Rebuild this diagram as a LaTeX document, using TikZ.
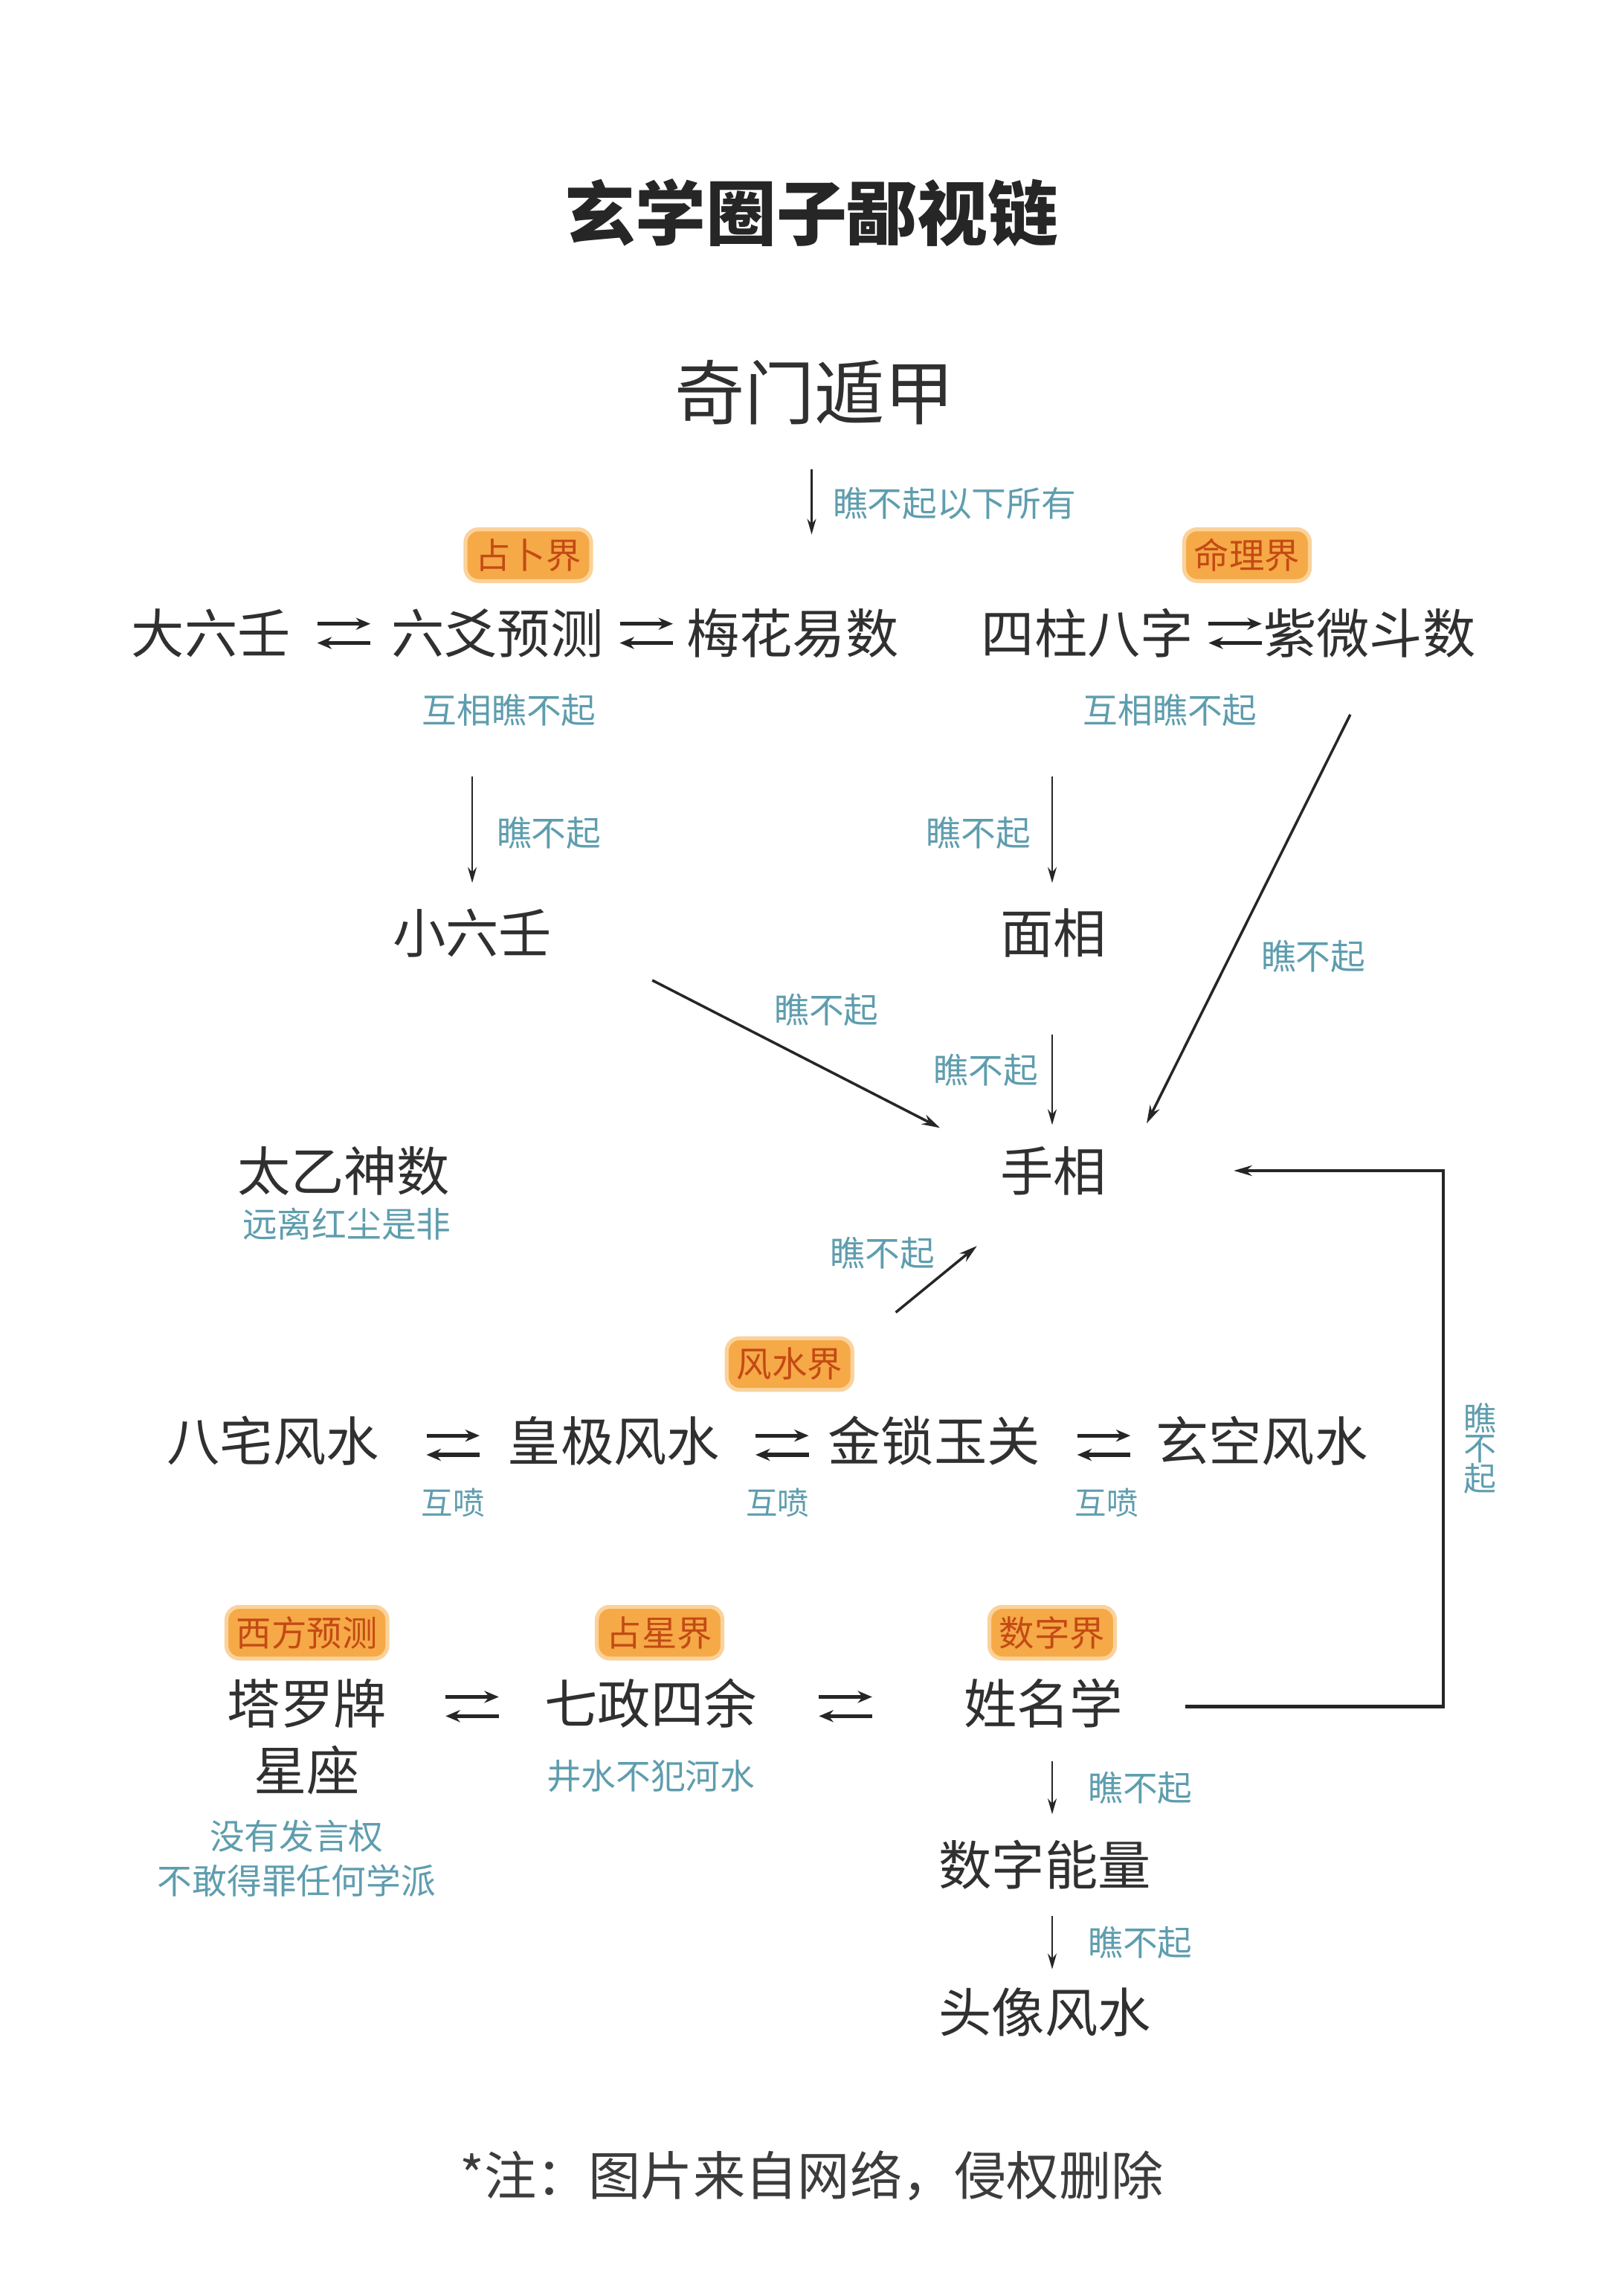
\documentclass[tikz,border=0pt]{standalone}
\usepackage{fontspec}
\newfontfamily\cjk{Noto Sans CJK SC}
\usetikzlibrary{arrows.meta}
\definecolor{txt}{HTML}{303030}
\definecolor{lbl}{HTML}{5E9DAE}
\definecolor{bfill}{HTML}{F5A947}
\definecolor{bglow}{HTML}{FAD29A}
\definecolor{btxt}{HTML}{C44A14}
\definecolor{foot}{HTML}{3C3C3C}
\tikzset{
  main/.style={font=\cjk\fontsize{20.3}{22}\selectfont, text=txt, inner sep=0pt},
  big/.style={font=\cjk\fontsize{26.8}{30}\selectfont, text=txt, inner sep=0pt},
  ttl/.style={font=\cjk\bfseries\fontsize{27}{30}\selectfont, text=black!85, inner sep=0pt},
  lab/.style={font=\cjk\fontsize{13.3}{15}\selectfont, text=lbl, inner sep=0pt},
  smlab/.style={font=\cjk\fontsize{12.1}{14}\selectfont, text=lbl, inner sep=0pt},
  vlab/.style={font=\cjk\fontsize{12.5}{13}\selectfont, text=lbl, inner sep=0pt, align=center},
  badge/.style={font=\cjk\fontsize{13.5}{15}\selectfont, text=btxt, fill=bfill, draw=bglow, line width=1.5pt, rounded corners=5pt, inner xsep=3.8pt, inner ysep=0pt, minimum height=19.8pt},
  foottxt/.style={font=\cjk\fontsize{20}{22}\selectfont, text=foot, inner sep=0pt},
  arr/.style={-{Stealth[length=6pt,width=3.4pt]}, line width=0.7pt, draw=black!85},
  darr/.style={-{Stealth[length=7pt,width=4pt]}, line width=1pt, draw=black!85},
  harr/.style={-{Stealth[length=5.5pt,width=4.6pt]}, line width=1.5pt, draw=black!85},
  every node/.append style={yshift=2.2pt},
}
\newcommand\dblarr[1]{%
  \draw[harr] ([shift={(-18,-6.5)}]#1) -- ([shift={(18,-6.5)}]#1);
  \draw[harr] ([shift={(18,6.5)}]#1) -- ([shift={(-18,6.5)}]#1);}
\begin{document}
\begin{tikzpicture}[x=0.019845cm, y=-0.019845cm]
\useasboundingbox[fill=white] (0,0) rectangle (1100,1555.5);

% title
\node[ttl] (title) at (550,148) {玄学圈子鄙视链};
\node[big] (qm) at (552,270) {奇门遁甲};
\coordinate (qa) at (550,322);
\coordinate (qb) at (550,366);
\draw[arr] (qa) -- (qb);
\node[lab, anchor=west] (lqm) at (564,345) {瞧不起以下所有};

% badges top
\node[badge] (b1) at (358,380) {占卜界};
\node[badge] (b2) at (845,380) {命理界};

% row 1
\node[main] (dlr) at (143,433) {大六壬};
\node[main] (lyyc) at (337,433) {六爻预测};
\node[main] (mhys) at (537,433) {梅花易数};
\node[main] (szbz) at (737,433) {四柱八字};
\node[main] (zwds) at (928,433) {紫微斗数};
\coordinate (d1) at (233,433);
\coordinate (d2) at (438,433);
\coordinate (d3) at (837,433);
\dblarr{d1}\dblarr{d2}\dblarr{d3}
\node[lab] (hx1) at (345,485) {互相瞧不起};
\node[lab] (hx2) at (793,485) {互相瞧不起};

% row 2
\node[main] (xlr) at (320,636) {小六壬};
\node[main] (mx) at (714,636) {面相};
\coordinate (a1s) at (320,530); \coordinate (a1e) at (320,602);
\draw[arr] (a1s) -- (a1e);
\node[lab] (l1) at (372,568) {瞧不起};
\coordinate (a2s) at (713,530); \coordinate (a2e) at (713,602);
\draw[arr] (a2s) -- (a2e);
\node[lab] (l2) at (663,568) {瞧不起};

% shouxiang
\node[main] (sx) at (714,797) {手相};
\node[main] (tysh) at (233,797) {太乙神数};
\node[lab] (lty) at (235,833) {远离红尘是非};

\coordinate (a3s) at (915,488); \coordinate (a3e) at (777,765);
\draw[darr] (a3s) -- (a3e);
\node[lab] (l3) at (890,652) {瞧不起};
\coordinate (a4s) at (442,668); \coordinate (a4e) at (637,768);
\draw[darr] (a4s) -- (a4e);
\node[lab] (l4) at (560,688) {瞧不起};
\coordinate (a5s) at (713,705); \coordinate (a5e) at (713,766);
\draw[arr] (a5s) -- (a5e);
\node[lab] (l5) at (668,729) {瞧不起};
\coordinate (a6s) at (607,893); \coordinate (a6e) at (662,848);
\draw[darr] (a6s) -- (a6e);
\node[lab] (l6) at (598,853) {瞧不起};

% fengshui
\node[badge] (b3) at (535,928) {风水界};
\node[main] (bzfs) at (185,980) {八宅风水};
\node[main] (hjfs) at (416,980) {皇极风水};
\node[main] (jsyg) at (633,980) {金锁玉关};
\node[main] (xkfs) at (855,980) {玄空风水};
\coordinate (d4) at (307,983);
\coordinate (d5) at (530,983);
\coordinate (d6) at (748,983);
\dblarr{d4}\dblarr{d5}\dblarr{d6}
\node[smlab] (hp1) at (307,1022) {互喷};
\node[smlab] (hp2) at (527,1022) {互喷};
\node[smlab] (hp3) at (750,1022) {互喷};

% bottom group
\node[badge] (b4) at (208,1110) {西方预测};
\node[badge] (b5) at (447,1110) {占星界};
\node[badge] (b6) at (713,1110) {数字界};
\node[main] (tlp) at (208,1158) {塔罗牌};
\node[main] (xz) at (208,1203) {星座};
\node[main] (qzsy) at (441,1158) {七政四余};
\node[main] (xmx) at (707,1158) {姓名学};
\coordinate (d7) at (320,1160);
\coordinate (d8) at (573,1160);
\dblarr{d7}\dblarr{d8}
\node[lab] (ls) at (441,1207) {井水不犯河水};
\node[lab] (lw1) at (201,1248) {没有发言权};
\node[lab] (lw2) at (201,1278) {不敢得罪任何学派};

\node[main] (szn) at (708,1267) {数字能量};
\node[main] (txfs) at (708,1367) {头像风水};
\coordinate (a7s) at (713,1197); \coordinate (a7e) at (713,1233);
\draw[arr] (a7s) -- (a7e);
\node[lab, anchor=west] (l7) at (737,1215) {瞧不起};
\coordinate (a8s) at (713,1302); \coordinate (a8e) at (713,1338);
\draw[arr] (a8s) -- (a8e);
\node[lab, anchor=west] (l8) at (737,1320) {瞧不起};

% right loop
\coordinate (r1) at (803,1160);
\coordinate (r2) at (978,1160);
\coordinate (r3) at (978,797);
\coordinate (r4) at (836,797);
\draw[darr, line width=1.2pt] (r1) -- (r2) -- (r3) -- (r4);
\node[vlab] (l9) at (1003,985) {瞧\\[-1.5pt]不\\[-1.5pt]起};

% footer
\node[foottxt] (ft) at (550,1478) {*注：图片来自网络，侵权删除};
\end{tikzpicture}
\end{document}
